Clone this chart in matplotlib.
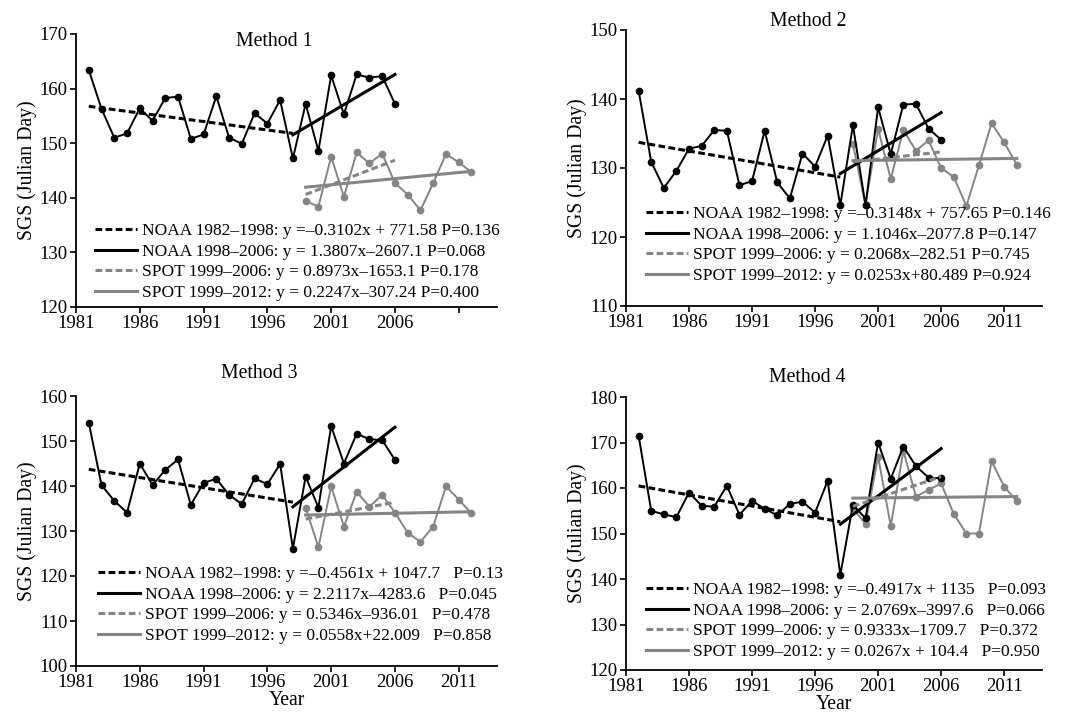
import numpy as np
import matplotlib
matplotlib.use('Agg')
import matplotlib.pyplot as plt

plt.rcParams['font.family'] = ['Liberation Serif', 'DejaVu Serif']

# years
years_noaa = np.arange(1982, 2007)
years_spot = np.arange(1999, 2013)

# SGS values, one list per method
noaa_m1 = [163.4, 156.3, 151.0, 151.8, 156.4, 154.1, 158.3, 158.5, 150.8, 151.6,
           158.6, 151.0, 149.9, 155.5, 153.6, 157.9, 147.2, 157.2, 148.6, 162.4,
           155.3, 162.6, 162.0, 162.3, 157.2]
spot_m1 = [139.4, 138.4, 147.5, 140.2, 148.3, 146.3, 148.1, 142.7, 140.6, 137.7,
           142.7, 148.0, 146.5, 144.7]

noaa_m2 = [141.2, 130.9, 127.1, 129.6, 132.8, 133.2, 135.5, 135.4, 127.5, 128.1,
           135.4, 127.9, 125.6, 132.1, 130.2, 134.7, 124.6, 136.2, 124.6, 138.8,
           132.0, 139.2, 139.3, 135.7, 134.1]
spot_m2 = [133.5, 124.6, 135.7, 128.4, 135.5, 132.5, 134.0, 130.0, 128.7, 124.5,
           130.4, 136.5, 133.7, 130.5]

noaa_m3 = [154.1, 140.2, 136.7, 134.1, 145.0, 140.2, 143.6, 145.9, 135.8, 140.7,
           141.6, 138.0, 136.0, 141.7, 140.4, 144.9, 126.1, 142.1, 135.2, 153.3,
           145.0, 151.6, 150.4, 150.2, 145.8]
spot_m3 = [135.2, 126.4, 139.9, 131.0, 138.7, 135.4, 138.0, 134.1, 129.6, 127.6,
           131.0, 139.9, 137.0, 133.9]

noaa_m4 = [171.5, 155.0, 154.2, 153.6, 159.0, 156.1, 155.9, 160.5, 154.1, 157.2,
           155.4, 154.0, 156.5, 157.0, 154.6, 161.6, 140.9, 156.3, 153.3, 170.0,
           162.0, 169.1, 164.8, 162.3, 162.1]
spot_m4 = [155.5, 152.1, 166.9, 151.6, 168.2, 158.1, 159.6, 161.0, 154.3, 150.0,
           150.0, 165.9, 160.3, 157.1]

# regression lines (slope, intercept) as printed in the legends
fits_m1 = [(-0.3102, 771.58), (1.3807, -2607.1), (0.8973, -1653.1), (0.2247, -307.24)]
fits_m2 = [(-0.3148, 757.65), (1.1046, -2077.8), (0.2068, -282.51), (0.0253, 80.489)]
fits_m3 = [(-0.4561, 1047.7), (2.2117, -4283.6), (0.5346, -936.01), (0.0558, 22.009)]
fits_m4 = [(-0.4917, 1135.0), (2.0769, -3997.6), (0.9333, -1709.7), (0.0267, 104.4)]
fit_ranges = [(1982, 1998), (1998, 2006), (1999, 2006), (1999, 2012)]

labels_m1 = ['NOAA 1982\u20131998: y =\u20130.3102x + 771.58 P=0.136',
             'NOAA 1998\u20132006: y = 1.3807x\u20132607.1 P=0.068',
             'SPOT 1999\u20132006: y = 0.8973x\u20131653.1 P=0.178',
             'SPOT 1999\u20132012: y = 0.2247x\u2013307.24 P=0.400']
labels_m2 = ['NOAA 1982\u20131998: y =\u20130.3148x + 757.65 P=0.146',
             'NOAA 1998\u20132006: y = 1.1046x\u20132077.8 P=0.147',
             'SPOT 1999\u20132006: y = 0.2068x\u2013282.51 P=0.745',
             'SPOT 1999\u20132012: y = 0.0253x+80.489 P=0.924']
labels_m3 = ['NOAA 1982\u20131998: y =\u20130.4561x + 1047.7   P=0.13',
             'NOAA 1998\u20132006: y = 2.2117x\u20134283.6   P=0.045',
             'SPOT 1999\u20132006: y = 0.5346x\u2013936.01   P=0.478',
             'SPOT 1999\u20132012: y = 0.0558x+22.009   P=0.858']
labels_m4 = ['NOAA 1982\u20131998: y =\u20130.4917x + 1135   P=0.093',
             'NOAA 1998\u20132006: y = 2.0769x\u20133997.6   P=0.066',
             'SPOT 1999\u20132006: y = 0.9333x\u20131709.7   P=0.372',
             'SPOT 1999\u20132012: y = 0.0267x + 104.4   P=0.950']

W, H = 1073, 716
GRAY = '#858585'

def px_box(left, top, right, bottom):
    return [left / W, 1 - bottom / H, (right - left) / W, (bottom - top) / H]

panels = [
    dict(box=(76, 34, 497, 307), ylim=(120, 170), noaa=noaa_m1, spot=spot_m1,
         fits=fits_m1, labels=labels_m1, title='Method 1', title_xy=(274, 42),
         leg_xy=(95, 223), xlabel=False, last_label=False),
    dict(box=(626, 30, 1042, 306), ylim=(110, 150), noaa=noaa_m2, spot=spot_m2,
         fits=fits_m2, labels=labels_m2, title='Method 2', title_xy=(808, 21),
         leg_xy=(646, 206), xlabel=False, last_label=True),
    dict(box=(76, 396, 497, 666), ylim=(100, 160), noaa=noaa_m3, spot=spot_m3,
         fits=fits_m3, labels=labels_m3, title='Method 3', title_xy=(259, 374),
         leg_xy=(98, 566), xlabel=True, last_label=True),
    dict(box=(626, 397, 1042, 670), ylim=(120, 180), noaa=noaa_m4, spot=spot_m4,
         fits=fits_m4, labels=labels_m4, title='Method 4', title_xy=(807, 377),
         leg_xy=(646, 582), xlabel=True, last_label=True),
]

fig = plt.figure(figsize=(W / 100, H / 100), dpi=100)

for p in panels:
    ax = fig.add_axes(px_box(*p['box']))
    ax.plot(years_noaa, p['noaa'], color='black', lw=1.4, marker='o', ms=4.5, zorder=3)
    ax.plot(years_spot, p['spot'], color=GRAY, lw=1.4, marker='o', ms=4.5, zorder=2)

    styles = [('black', (0, (2.2, 1.1))), ('black', '-'), (GRAY, (0, (2.2, 1.1))), (GRAY, '-')]
    for (slope, icpt), (x0, x1), (col, ls), lab in zip(p['fits'], fit_ranges, styles, p['labels']):
        xs = np.array([x0, x1])
        ax.plot(xs, slope * xs + icpt, color=col, ls=ls, lw=2.2, label=lab, zorder=4)

    ax.set_xlim(1981, 2014)
    ax.set_ylim(*p['ylim'])
    ticks = np.arange(1981, 2012, 5)
    ax.set_xticks(ticks)
    tl = [str(t) for t in ticks]
    if not p['last_label']:
        tl[-1] = ''
    ax.set_xticklabels(tl)
    ax.set_yticks(np.arange(p['ylim'][0], p['ylim'][1] + 1, 10))
    ax.spines['top'].set_visible(False)
    ax.spines['right'].set_visible(False)
    for s in ['left', 'bottom']:
        ax.spines[s].set_linewidth(1.3)
    ax.tick_params(direction='out', length=4, width=1.2, labelsize=13.5, pad=2)
    ax.set_ylabel('SGS (Julian Day)', fontsize=14.2, labelpad=2)
    if p['xlabel']:
        ax.set_xlabel('Year', fontsize=14.2, labelpad=0)

    lx, ly = p['leg_xy']
    ax.legend(loc='upper left', bbox_to_anchor=(lx / W, 1 - ly / H),
              bbox_transform=fig.transFigure, frameon=False, fontsize=12.5,
              borderpad=0, borderaxespad=0, labelspacing=0.26,
              handlelength=2.4, handletextpad=0.3)

    tx, ty = p['title_xy']
    fig.text(tx / W, 1 - ty / H, p['title'], fontsize=14.2, ha='center', va='center')

fig.savefig('out.png', dpi=100)
